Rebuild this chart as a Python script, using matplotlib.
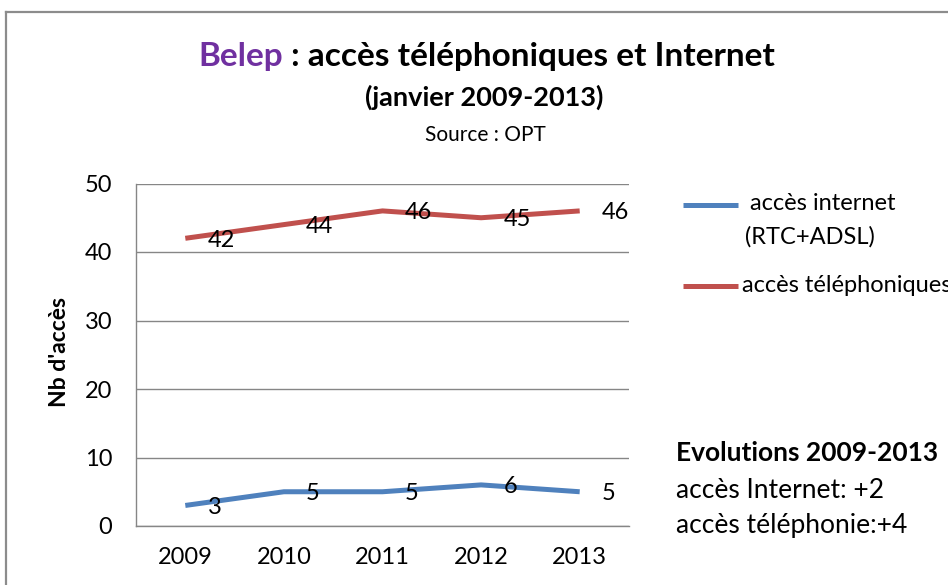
import matplotlib
matplotlib.use("Agg")
import matplotlib.pyplot as plt
from matplotlib.lines import Line2D

plt.rcParams['font.family'] = ['Lato', 'DejaVu Sans']

# data
years = ['2009', '2010', '2011', '2012', '2013']
internet = [3, 5, 5, 6, 5]
telephone = [42, 44, 46, 45, 46]
yticks = [0, 10, 20, 30, 40, 50]

W, H = 948, 585
fig = plt.figure(figsize=(W / 100, H / 100), dpi=100)
fig.patch.set_facecolor('white')

ax = fig.add_axes([136 / W, 1 - 526 / H, 493 / W, (526 - 183.5) / H])
x = list(range(len(years)))

blue = '#4F81BD'
red = '#C0504D'
ax.plot(x, internet, color=blue, lw=3.6, solid_capstyle='butt', zorder=3)
ax.plot(x, telephone, color=red, lw=3.6, solid_capstyle='butt', zorder=3)

# data labels to the right of each point (Excel style)
for series in (internet, telephone):
    for i, v in enumerate(series):
        ax.annotate(str(v), (i, v), xytext=(16, -1.5), textcoords='offset points',
                    ha='left', va='center', fontsize=17, color='black', zorder=4)

ax.set_xlim(-0.5, len(years) - 0.5)
ax.set_ylim(0, 50)
ax.set_xticks(x)
ax.set_xticklabels(years)
ax.set_yticks(yticks)
ax.tick_params(length=0, labelsize=17)
ax.tick_params(axis='x', pad=15)
ax.tick_params(axis='y', pad=17)
ax.yaxis.grid(True, color='#868686', lw=1)
ax.set_axisbelow(True)
for s in ['top', 'right']:
    ax.spines[s].set_visible(False)
for s in ['left', 'bottom']:
    ax.spines[s].set_color('#868686')
    ax.spines[s].set_linewidth(1)

fig.text(60 / W, 1 - 352 / H, "Nb d'accès", rotation=90, ha='center', va='center',
         fontsize=16.5, fontweight='bold')

# chart frame
fig.add_artist(Line2D([6 / W, 6 / W], [0, 1 - 12 / H], transform=fig.transFigure,
                      color='#8c8c8c', lw=1.6))
fig.add_artist(Line2D([6 / W, 1], [1 - 12 / H, 1 - 12 / H], transform=fig.transFigure,
                      color='#8c8c8c', lw=1.6))

# title in two colours, centred together
fig.canvas.draw()
r = fig.canvas.get_renderer()
t1 = fig.text(0, 1 - 66 / H, 'Belep', color='#7030A0', fontsize=24,
              fontweight='bold', va='baseline')
t2 = fig.text(0, 1 - 66 / H, ' : accès téléphoniques et Internet', color='black',
              fontsize=24, fontweight='bold', va='baseline')
w1 = t1.get_window_extent(r).width
w2 = t2.get_window_extent(r).width
x0 = 487 - (w1 + w2) / 2
t1.set_x(x0 / W)
t2.set_x((x0 + w1) / W)

fig.text(484 / W, 1 - 106 / H, '(janvier 2009-2013)', ha='center', va='baseline',
         fontsize=19.5, fontweight='bold')
fig.text(485 / W, 1 - 141 / H, 'Source : OPT', ha='center', va='baseline', fontsize=15)

# legend
fig.add_artist(Line2D([683 / W, 738 / W], [1 - 205 / H] * 2, transform=fig.transFigure,
                      color=blue, lw=3.6, solid_capstyle='butt'))
fig.add_artist(Line2D([683 / W, 738 / W], [1 - 286 / H] * 2, transform=fig.transFigure,
                      color=red, lw=3.6, solid_capstyle='butt'))
fig.text(750 / W, 1 - 204 / H, 'accès internet', ha='left', va='center', fontsize=17)
fig.text(745 / W, 1 - 237 / H, '(RTC+ADSL)', ha='left', va='center', fontsize=17)
fig.text(742 / W, 1 - 286 / H, 'accès téléphoniques', ha='left', va='center', fontsize=17)

# side note
fig.text(676 / W, 1 - 453 / H, 'Evolutions 2009-2013', ha='left', va='center',
         fontsize=19, fontweight='bold')
fig.text(676 / W, 1 - 491 / H, 'accès Internet: +2', ha='left', va='center', fontsize=19)
fig.text(676 / W, 1 - 526 / H, 'accès téléphonie:+4', ha='left', va='center', fontsize=19)

fig.savefig('out.png', dpi=100)
